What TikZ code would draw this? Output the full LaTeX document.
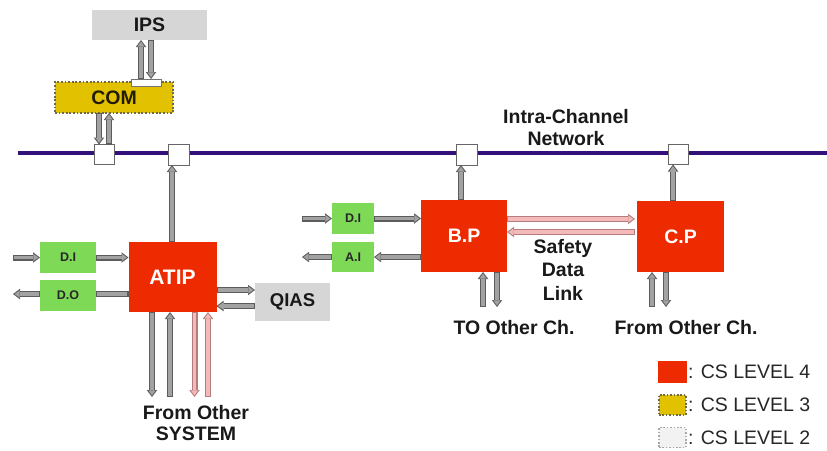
\documentclass[tikz,border=0pt]{standalone}
\usepackage{fontspec}
\setmainfont{Liberation Sans}
\usetikzlibrary{arrows.meta,calc}

\definecolor{levelfour}{HTML}{EE2A00}
\definecolor{levelthree}{HTML}{E2C200}
\definecolor{levelthreeedge}{HTML}{6E6A48}
\definecolor{leveltwo}{HTML}{F2F2F2}
\definecolor{leveltwoedge}{HTML}{A8A8A8}
\definecolor{extgray}{HTML}{D6D6D6}
\definecolor{iofill}{HTML}{7ED957}
\definecolor{netcolor}{HTML}{34107A}
\definecolor{arrowedge}{HTML}{5C5C5C}
\definecolor{arrowfill}{HTML}{A2A2A2}
\definecolor{linkedge}{HTML}{B47C7C}
\definecolor{linkfill}{HTML}{F4BABA}

\tikzset{
  % hollow block arrow: dark outline with a lighter core
  blockarrow/.style 2 args={draw=#1, line width=6pt,
    -{Triangle[length=7pt,width=10.5pt,line width=0pt]},
    postaction={draw=#2, line width=3.4pt, shorten <=1.3pt, shorten >=1.6pt,
      -{Triangle[length=5pt,width=7pt,line width=0pt]}}},
  blockline/.style 2 args={draw=#1, line width=6pt,
    postaction={draw=#2, line width=3.4pt, shorten <=1.3pt, shorten >=1.3pt}},
  garrow/.style={blockarrow={arrowedge}{arrowfill}},
  parrow/.style={blockarrow={linkedge}{linkfill}},
  gline/.style={blockline={arrowedge}{arrowfill}},
  box/.style={rectangle, inner sep=0pt, outer sep=0pt},
  cpu/.style={box, fill=levelfour, text=white, font=\bfseries\fontsize{19.5}{19.5}\selectfont},
  iobox/.style={box, fill=iofill, text=black!85, font=\bfseries\fontsize{12.5}{12.5}\selectfont},
  extbox/.style={box, fill=extgray, text=black!90, font=\bfseries\fontsize{19.5}{19.5}\selectfont},
  port/.style={box, draw=black!60, line width=0.8pt, fill=white, minimum size=20pt},
  lbl/.style={inner sep=0pt, align=center, text=black!90, font=\bfseries\fontsize{19.5}{22}\selectfont},
  legendtxt/.style={inner sep=0pt, anchor=west, text=black!85, font=\fontsize{19.5}{19.5}\selectfont},
  netline/.style={draw=netcolor, line width=3.6pt},
}

\begin{document}
\begin{tikzpicture}[x=1pt,y=-1pt]
\useasboundingbox (0,0) rectangle (827,450);

% lanes for the vertical and horizontal connectors
\coordinate (xIPSup) at (141,0);
\coordinate (xIPSdn) at (151,0);
\coordinate (xCOMdn) at (99,0);
\coordinate (xCOMup) at (109,0);
\coordinate (xATIPnet) at (172,0);
\coordinate (xA1) at (152,0);
\coordinate (xA2) at (170,0);
\coordinate (xA3) at (194.5,0);
\coordinate (xA4) at (208,0);
\coordinate (xBPnet) at (461,0);
\coordinate (xBP1) at (483,0);
\coordinate (xBP2) at (497,0);
\coordinate (xCPnet) at (673,0);
\coordinate (xCP1) at (652,0);
\coordinate (xCP2) at (666,0);
\coordinate (yQ1) at (0,290);
\coordinate (yQ2) at (0,306);
\coordinate (yS1) at (0,219);
\coordinate (yS2) at (0,232);
\coordinate (yDO) at (0,294);
\coordinate (ysys) at (0,397);
\coordinate (ych) at (0,307);

% intra-channel network bus
\coordinate (netW) at (18,153);
\coordinate (netE) at (827,153);
\draw[netline] (netW) -- (netE);

% network ports
\node[port] (sq1) at (104,154.5) {};
\node[port, minimum size=21pt] (sq2) at (178.5,154.5) {};
\node[port, minimum size=21pt] (sq3) at (466.5,154.5) {};
\node[port] (sq4) at (678,154.5) {};

% upper left: IPS and COM
\node[extbox, minimum width=115pt, minimum height=30pt] (ips) at (149.5,25) {IPS};
\node[box, fill=levelthree, draw=levelthreeedge, line width=1.8pt,
      dash pattern=on 1.8pt off 1.8pt, minimum width=118pt, minimum height=31pt,
      text=black!85!levelthree, font=\bfseries\fontsize{19.5}{19.5}\selectfont]
      (com) at (114,97.5) {COM};
\node[box, fill=white, draw=black!55, line width=0.7pt, minimum width=30pt, minimum height=7pt]
      (comport) at (146,82.5) {};

\draw[garrow] (comport.north -| xIPSup) -- (ips.south -| xIPSup);
\draw[garrow] (ips.south -| xIPSdn) -- (comport.north -| xIPSdn);
\draw[garrow] (com.south -| xCOMdn) -- (sq1.north -| xCOMdn);
\draw[garrow] (sq1.north -| xCOMup) -- (com.south -| xCOMup);

% ATIP group
\node[cpu, minimum width=88pt, minimum height=70pt,
      font=\bfseries\fontsize{21}{21}\selectfont] (atip) at (172.5,277) {ATIP};
\node[iobox, minimum width=56pt, minimum height=31pt] (diL) at (68,257.5) {D.I};
\node[iobox, minimum width=56pt, minimum height=31pt] (doL) at (68,295.5) {D.O};
\node[extbox, minimum width=75pt, minimum height=38pt,
      font=\bfseries\fontsize{18.5}{18.5}\selectfont] (qias) at (292.5,302) {QIAS};
\coordinate (inL) at (13,257.5);
\coordinate (outL) at (13,294);

\draw[garrow] (inL) -- (diL.west);
\draw[garrow] (diL.east) -- (diL.east -| atip.west);
\draw[gline] (atip.west |- yDO) -- (doL.east |- yDO);
\draw[garrow] (doL.west |- yDO) -- (outL);
\draw[garrow] (atip.east |- yQ1) -- (qias.west |- yQ1);
\draw[garrow] (qias.west |- yQ2) -- (atip.east |- yQ2);
\draw[garrow] (atip.north -| xATIPnet) -- (sq2.south -| xATIPnet);

\draw[garrow] (atip.south -| xA1) -- (xA1 |- ysys);
\draw[garrow] (xA2 |- ysys) -- (atip.south -| xA2);
\draw[parrow] (atip.south -| xA3) -- (xA3 |- ysys);
\draw[parrow] (xA4 |- ysys) -- (atip.south -| xA4);

\node[lbl, font=\bfseries\fontsize{19.5}{21}\selectfont] (fromsys) at (196,423) {From Other\\SYSTEM};

% B.P group
\node[cpu, minimum width=86pt, minimum height=72pt] (bp) at (464,236) {B.P};
\node[iobox, minimum width=42pt, minimum height=31pt] (diR) at (353,218.5) {D.I};
\node[iobox, minimum width=42pt, minimum height=30pt] (aiR) at (353,257) {A.I};
\coordinate (inR) at (302,218.5);
\coordinate (outR) at (302,257);

\draw[garrow] (inR) -- (diR.west);
\draw[garrow] (diR.east) -- (diR.east -| bp.west);
\draw[garrow] (aiR.east -| bp.west) -- (aiR.east);
\draw[garrow] (aiR.west) -- (outR);
\draw[garrow] (bp.north -| xBPnet) -- (sq3.south -| xBPnet);
\draw[garrow] (xBP1 |- ych) -- (bp.south -| xBP1);
\draw[garrow] (bp.south -| xBP2) -- (xBP2 |- ych);

% C.P group
\node[cpu, minimum width=87pt, minimum height=71pt] (cp) at (680.5,236.5) {C.P};
\draw[garrow] (cp.north -| xCPnet) -- (sq4.south -| xCPnet);
\draw[garrow] (xCP1 |- ych) -- (cp.south -| xCP1);
\draw[garrow] (cp.south -| xCP2) -- (xCP2 |- ych);

% safety data link between B.P and C.P
\draw[parrow] (bp.east |- yS1) -- ([xshift=-2pt]cp.west |- yS1);
\draw[parrow] ([xshift=-2pt]cp.west |- yS2) -- (bp.east |- yS2);

% labels
\node[lbl] (netlabel) at (566,128) {Intra-Channel\\Network};
\node[lbl, font=\bfseries\fontsize{19.5}{23.5}\selectfont] (safety) at (563,269.5) {Safety\\Data\\Link};
\node[lbl] (toch) at (514,328) {TO Other Ch.};
\node[lbl] (fromch) at (686,328) {From Other Ch.};

% legend
\node[box, fill=levelfour, minimum width=29pt, minimum height=22pt] (lg4) at (672.5,372) {};
\node[box, fill=levelthree, draw=levelthreeedge, line width=1.6pt, dash pattern=on 1.6pt off 1.8pt,
      minimum width=27pt, minimum height=20pt] (lg3) at (672.5,405) {};
\node[box, fill=leveltwo, draw=leveltwoedge, line width=1.6pt, dash pattern=on 1.6pt off 1.8pt,
      minimum width=27pt, minimum height=20pt] (lg2) at (672.5,437.5) {};
\node[legendtxt] (lt4) at (688,372) {: CS LEVEL 4};
\node[legendtxt] (lt3) at (688,405) {: CS LEVEL 3};
\node[legendtxt] (lt2) at (688,437.5) {: CS LEVEL 2};
\end{tikzpicture}
\end{document}
